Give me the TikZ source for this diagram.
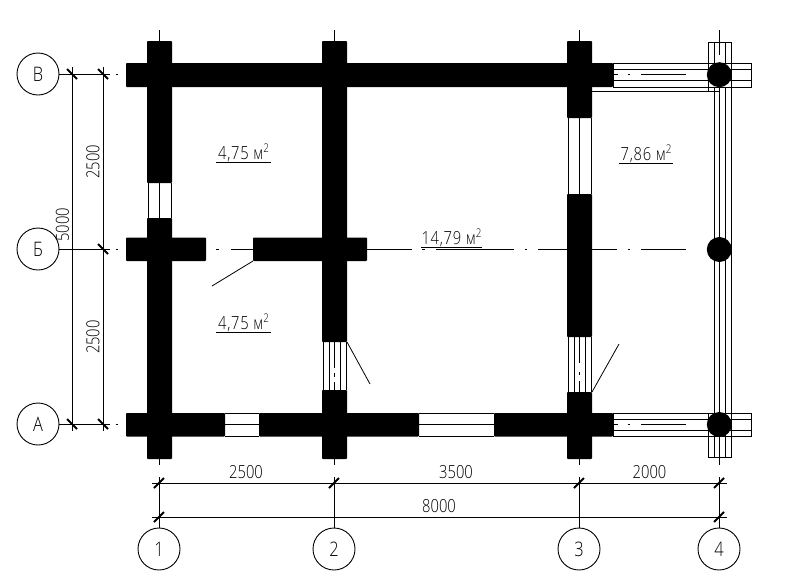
\documentclass[tikz,border=0pt]{standalone}
\usepackage{fontspec}
\setmainfont[FakeStretch=0.82,UprightFont=* Light]{Open Sans}
\tikzset{
  wall/.style={fill=black,draw=none,rounded corners=0.8pt},
  thin line/.style={draw=black,line width=1pt},
  hair/.style={draw=black,line width=0.8pt},
  tick/.style={draw=black,line width=2pt},
  bubble/.style={circle,draw=black,line width=0.9pt,minimum size=42pt,inner sep=0pt,font=\fontsize{20}{20}\selectfont},
  dimtext/.style={inner sep=0pt,font=\fontsize{18}{18}\selectfont},
  area/.style={inner sep=0pt,font=\fontsize{18}{18}\selectfont\addfontfeature{LetterSpace=4},anchor=base},
  post/.style={fill=black,draw=none}
}
\begin{document}
\begin{tikzpicture}[x=1pt,y=-1pt]
\useasboundingbox (0,0) rectangle (792,584);
% axis bubbles
\node[bubble] (aV) at (38,74) {В};
\node[bubble] (aB) at (38,249) {Б};
\node[bubble] (aA) at (38,424) {А};
\node[bubble] (a1) at (159,549) {1};
\node[bubble] (a2) at (334,549) {2};
\node[bubble] (a3) at (579,549) {3};
\node[bubble] (a4) at (719,549) {4};
% horizontal axes from bubbles
\coordinate (lV) at (110,74); \coordinate (lB) at (110,249); \coordinate (lA) at (110,424);
\draw[thin line] (aV.east) -- (lV);
\draw[thin line] (aB.east) -- (lB);
\draw[thin line] (aA.east) -- (lA);
\foreach \y in {74,249,424} \draw[thin line] (116,\y) -- (118,\y);
% vertical axes from bubbles
\coordinate (t1) at (159,477); \coordinate (t2) at (334,477); \coordinate (t3) at (579,477); \coordinate (t4) at (719,477);
\draw[thin line] (a1.north) -- (t1);
\draw[thin line] (a2.north) -- (t2);
\draw[thin line] (a3.north) -- (t3);
\draw[thin line] (a4.north) -- (t4);
\foreach \x in {159,334,579,719} {
  \draw[thin line] (\x,458) -- (\x,465);
  \draw[thin line] (\x,30) -- (\x,42);
}
% dimension lines
\draw[thin line] (152,483) -- (727,483);
\draw[thin line] (152,517) -- (727,517);
\draw[thin line] (72,67) -- (72,431);
\draw[thin line] (103,67) -- (103,431);
\foreach \x in {159,334,579,719} \draw[tick] (\x-5,488) -- (\x+5,478);
\foreach \x in {159,719} \draw[tick] (\x-5,522) -- (\x+5,512);
\foreach \y in {74,249,424} \draw[tick] (98,\y-5) -- (108,\y+5);
\foreach \y in {74,424} \draw[tick] (67,\y-5) -- (77,\y+5);
% dimension text
\node[dimtext] at (246,472) {2500};
\node[dimtext] at (456,472) {3500};
\node[dimtext] at (649.5,472) {2000};
\node[dimtext] at (439,506.5) {8000};
\node[dimtext,rotate=90] at (93,162) {2500};
\node[dimtext,rotate=90] at (93,337) {2500};
\node[dimtext,rotate=90] at (62.5,225) {5000};
% veranda beams
\foreach \ya/\yb/\yc/\yd in {63/69/80/87,413/419/430.5/436} {
  \draw[thin line] (613,\ya) rectangle (751,\yd);
  \draw[thin line] (613,\yb) -- (751,\yb);
  \draw[thin line] (613,\yc) -- (751,\yc);
}
\draw[thin line] (592,91) -- (719,91);
\draw[thin line] (708,91) -- (708,42) -- (731,42) -- (731,91);
\draw[thin line] (708,413) -- (708,457.5) -- (731,457.5) -- (731,413);
\foreach \x in {714,725} {
  \draw[thin line] (\x,42) -- (\x,63);
  \draw[thin line] (\x,87) -- (\x,457.5);
}
\draw[thin line] (731,87) -- (731,413);
\draw[thin line] (719,42) -- (719,55);
\draw[thin line] (719,87) -- (719,457.5);
\foreach \y in {74,424} {
  \draw[thin line] (613,\y) -- (618,\y);
  \draw[thin line] (628,\y) -- (630,\y);
  \draw[thin line] (641,\y) -- (686,\y);
}
% windows, vertical
\foreach \xa/\xb/\ya/\yb in {148/171/183/218,568/591/118/194} {
  \draw[thin line] (\xa,\ya) -- (\xa,\yb);
  \draw[thin line] (\xb,\ya) -- (\xb,\yb);
}
\draw[thin line] (159,183) -- (159,218);
\draw[thin line] (579,118) -- (579,194);
\foreach \xc/\ya/\yb in {334/342/390,579/337/392} {
  \draw[thin line] (\xc-11,\ya) -- (\xc-11,\yb);
  \draw[thin line] (\xc-5,\ya) -- (\xc-5,\yb);
  \draw[thin line] (\xc+6,\ya) -- (\xc+6,\yb);
  \draw[thin line] (\xc+12,\ya) -- (\xc+12,\yb);
}
\draw[thin line] (334.5,342) -- (334.5,368);
\draw[thin line] (334.5,373) -- (334.5,377);
\draw[thin line] (334.5,382) -- (334.5,390);
\draw[thin line] (579,337) -- (579,363);
\draw[thin line] (579,372) -- (579,375);
\draw[thin line] (579,381) -- (579,392);
% windows, horizontal
\foreach \xa/\xb in {225/259,419/494} {
  \draw[thin line] (\xa,413.5) -- (\xb,413.5);
  \draw[thin line] (\xa,436) -- (\xb,436);
  \draw[thin line] (\xa,424) -- (\xb,424);
}
% walls
\fill[wall] (126,63) rectangle (613,87);
\fill[wall] (147,41) rectangle (172,183);
\fill[wall] (147,218) rectangle (172,459);
\fill[wall] (126,237.5) rectangle (206,261);
\fill[wall] (126,413) rectangle (225,436.5);
\fill[wall] (259,413) rectangle (419,436.5);
\fill[wall] (494,413) rectangle (613,436.5);
\fill[wall] (322,41) rectangle (347,342);
\fill[wall] (322,390) rectangle (347,459);
\fill[wall] (253,237.5) rectangle (367,261);
\fill[wall] (567,41) rectangle (592,118);
\fill[wall] (567,194) rectangle (592,337);
\fill[wall] (567,392) rectangle (592,459);
% posts
\foreach \y in {74.7,249.5,424.5} \fill[post] (719.3,\y) circle (12.5);
% axis Б
\draw[thin line] (216,249) -- (219,249);
\draw[thin line] (231,249) -- (253,249);
\draw[thin line] (367,249) -- (412,249);
\draw[thin line] (422,249) -- (425,249);
\draw[thin line] (436,249) -- (514,249);
\draw[thin line] (525,249) -- (527,249);
\draw[thin line] (538,249) -- (567,249);
\draw[thin line] (592,249) -- (617,249);
\draw[thin line] (628,249) -- (630,249);
\draw[thin line] (641,249) -- (686,249);
% doors
\draw[hair] (253,261) -- (212,286);
\draw[hair] (347,342) -- (370,384);
\draw[hair] (592,392) -- (619,344);
% areas
\newcommand{\sqm}{м\raisebox{7pt}{\fontsize{12}{12}\selectfont 2}}
\node[area] at (243.5,159.5) {4,75 \sqm};
\node[area] at (243.5,329) {4,75 \sqm};
\node[area] at (646,160) {7,86 \sqm};
\node[area] at (451.5,244) {14,79 \sqm};
\draw[thin line] (216,162.5) -- (271,162.5);
\draw[thin line] (216,332) -- (271,332);
\draw[thin line] (619,163) -- (673,163);
\draw[thin line] (421,247) -- (482,247);
\end{tikzpicture}
\end{document}
